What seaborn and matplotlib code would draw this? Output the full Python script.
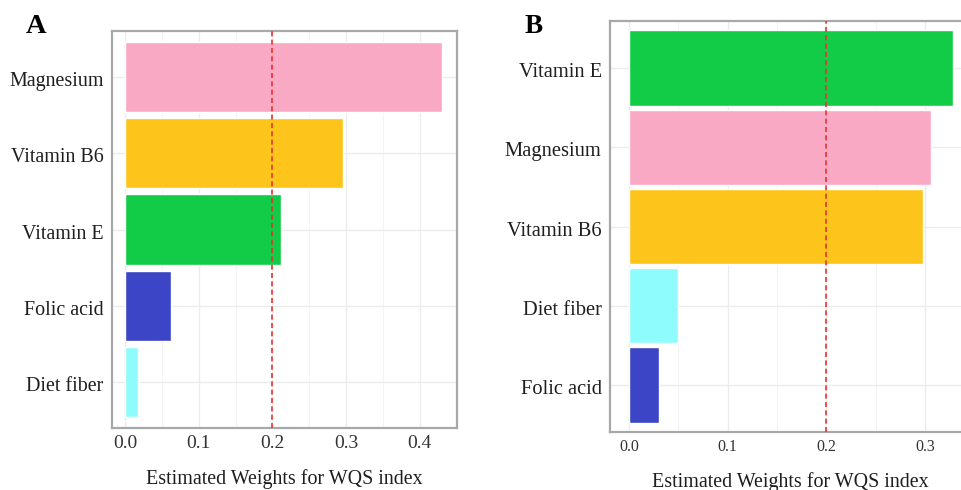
import matplotlib
matplotlib.use("Agg")
import matplotlib.pyplot as plt
import seaborn as sns
import numpy as np
import pandas as pd
from matplotlib.ticker import MultipleLocator
from matplotlib.transforms import ScaledTranslation

# Panel A: WQS weights
names_a = ["Magnesium", "Vitamin B6", "Vitamin E", "Folic acid", "Diet fiber"]
weights_a = [0.430, 0.296, 0.212, 0.062, 0.017]

# Panel B: WQS weights
names_b = ["Vitamin E", "Magnesium", "Vitamin B6", "Diet fiber", "Folic acid"]
weights_b = [0.328, 0.306, 0.298, 0.050, 0.030]

x_ticks_a = [0.0, 0.1, 0.2, 0.3, 0.4]
x_ticks_b = [0.0, 0.1, 0.2, 0.3]
threshold = 0.2

colors = {
    "Magnesium": "#FAA9C5",
    "Vitamin B6": "#FDC51B",
    "Vitamin E": "#12CC48",
    "Folic acid": "#3C45C6",
    "Diet fiber": "#8EFCFC",
}

sns.set_theme(style="white")
plt.rcParams["font.family"] = ["Liberation Serif", "DejaVu Serif"]

W, H = 961, 490
fig = plt.figure(figsize=(W / 100, H / 100), dpi=100)


def px_axes(left, top, right, bottom):
    return fig.add_axes([left / W, 1 - bottom / H, (right - left) / W, (bottom - top) / H])


def draw_panel(ax, names, weights, ticks, xlim, width, ytick_size, xtick_size):
    df = pd.DataFrame({"name": names, "weight": weights})
    sns.barplot(data=df, x="weight", y="name", hue="name", order=names,
                palette=colors, orient="h", width=width, legend=False,
                saturation=1, ax=ax, zorder=2)
    ax.set_xlim(*xlim)
    ax.set_ylim(len(names) - 0.4, -0.6)
    ax.set_xticks(ticks)
    ax.xaxis.set_minor_locator(MultipleLocator(0.05))
    ax.grid(True, which="major", color="#ECECEC", lw=1.0, zorder=0)
    ax.grid(True, which="minor", axis="x", color="#F3F3F3", lw=0.8, zorder=0)
    ax.set_axisbelow(True)
    ax.axvline(threshold, color="#E8322E", ls=(0, (3, 2)), lw=1.2, zorder=3)
    for s in ax.spines.values():
        s.set_color("#A8A8A8")
        s.set_linewidth(1.6)
    ax.tick_params(axis="both", length=0)
    ax.tick_params(axis="y", labelsize=ytick_size, labelcolor="#1E1E1E", pad=6)
    ax.tick_params(axis="x", labelsize=xtick_size, labelcolor="#333333", pad=5)
    # nudge category labels slightly downward
    shift = ScaledTranslation(0, -2 / 100, fig.dpi_scale_trans)
    for lab in ax.get_yticklabels():
        lab.set_transform(lab.get_transform() + shift)
    ax.set_ylabel("")
    ax.set_xlabel("Estimated Weights for WQS index", fontsize=14.4,
                  color="#1E1E1E", labelpad=12)


ax_a = px_axes(112, 31, 457, 428)
draw_panel(ax_a, names_a, weights_a, x_ticks_a, (-0.0176, 0.4505), 0.92, 14.4, 14)

ax_b = px_axes(610, 21, 970, 432)
draw_panel(ax_b, names_b, weights_b, x_ticks_b, (-0.0193, 0.3455), 0.96, 14.8, 11.5)
ax_b.spines["right"].set_visible(False)

fig.text(26 / W, 1 - 33 / H, "A", fontsize=20.5, fontweight="bold", color="black")
fig.text(525 / W, 1 - 33 / H, "B", fontsize=19.5, fontweight="bold", color="black")

fig.savefig("out.png", dpi=100)
